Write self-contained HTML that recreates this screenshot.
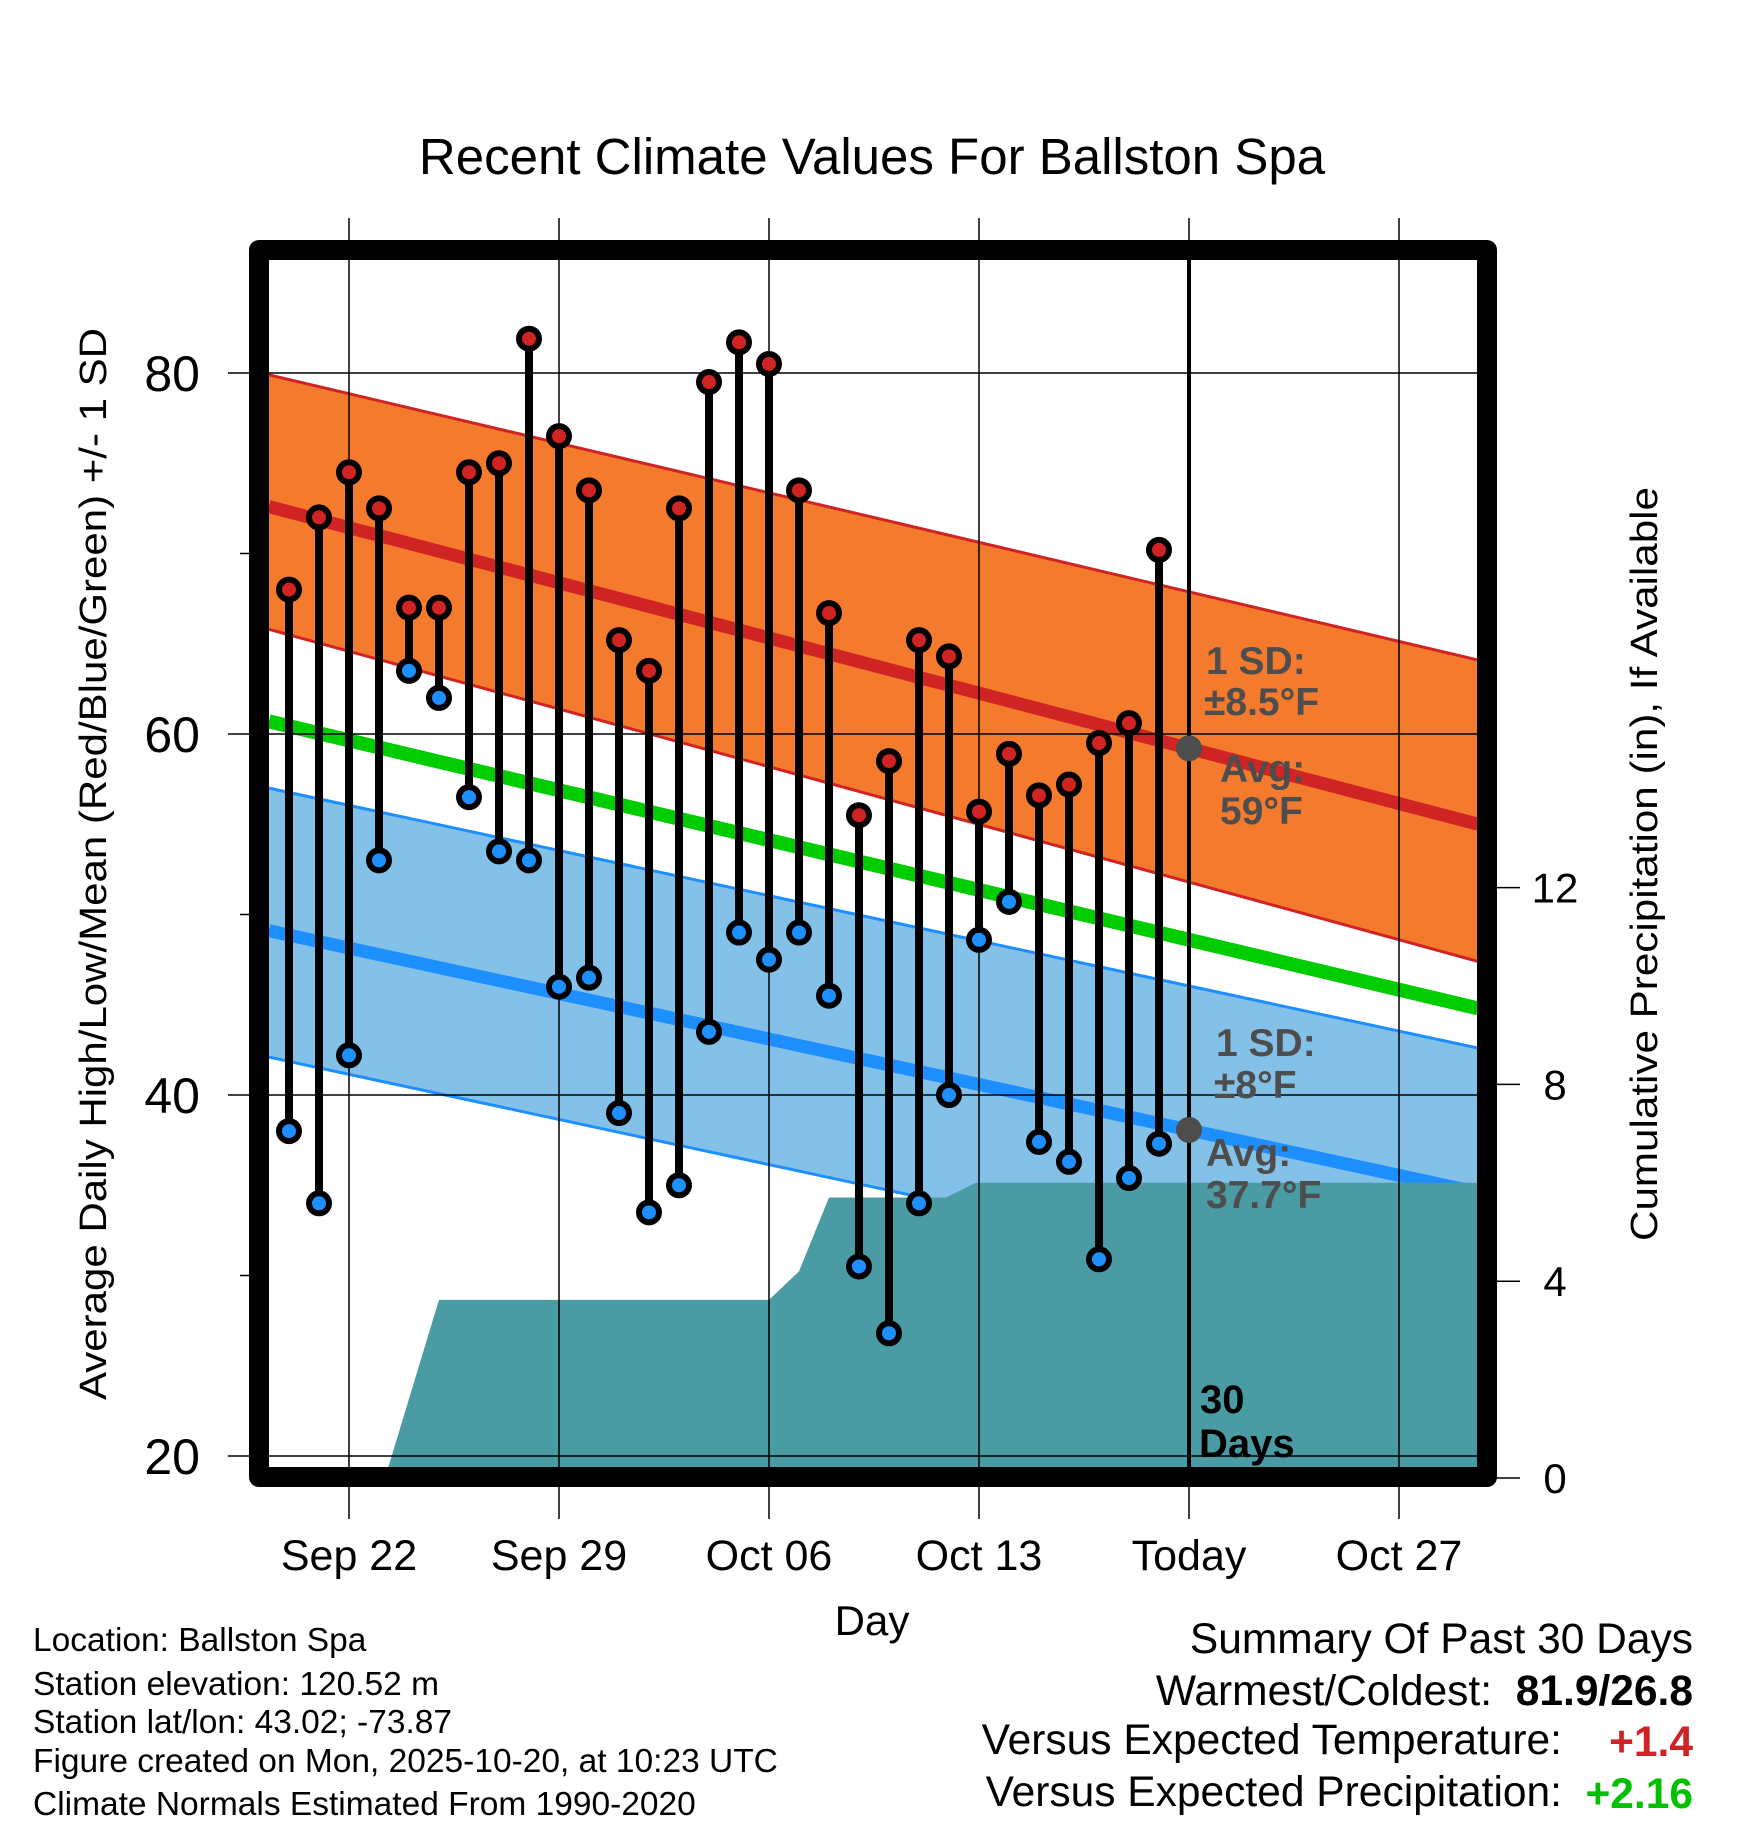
<!DOCTYPE html>
<html><head><meta charset="utf-8"><style>
html,body{margin:0;padding:0;background:#fff;}
svg{display:block;font-family:"Liberation Sans",Arial,sans-serif;}
</style></head><body>
<svg id="chart" width="1748" height="1828" viewBox="0 0 1748 1828">
<g id="layer"></g>
</svg>
<script>
// ---- data ----
const days = ['Sep 20','Sep 21','Sep 22','Sep 23','Sep 24','Sep 25','Sep 26','Sep 27','Sep 28','Sep 29','Sep 30','Oct 01','Oct 02','Oct 03','Oct 04','Oct 05','Oct 06','Oct 07','Oct 08','Oct 09','Oct 10','Oct 11','Oct 12','Oct 13','Oct 14','Oct 15','Oct 16','Oct 17','Oct 18','Oct 19'];
const dayOffsets = [-2,-1,0,1,2,3,4,5,6,7,8,9,10,11,12,13,14,15,16,17,18,19,20,21,22,23,24,25,26,27];
const highs = [68,72,74.5,72.5,67,67,74.5,75,81.9,76.5,73.5,65.2,63.5,72.5,79.5,81.7,80.5,73.5,66.7,55.5,58.5,65.2,64.3,55.7,58.9,56.6,57.2,59.5,60.6,70.2];
const lows = [38,34,42.2,53,63.5,62,56.5,53.5,53,46,46.5,39,33.5,35,43.5,49,47.5,49,45.5,30.5,26.8,34,40,48.6,50.7,37.4,36.3,30.9,35.4,37.3];
const normalDays = [-2.67,37.63];
const highMean = [72.6,55.0];
const highUpper = [79.9,64.1];
const highLower = [65.8,47.4];
const meanNormal = [60.7,44.8];
const lowMean = [49.1,34.6];
const lowUpper = [57.0,42.6];
const lowLower = [42.1,27.7];
const precipDays = [-2.67,1.2,3.0,14.0,15.0,16.0,19.9,20.9,37.63];
const precipValues = [0,0,3.62,3.62,4.2,5.7,5.7,6.0,6.0];
const xTickDays = [0,7,14,21,28,35];
const xTickLabels = ['Sep 22','Sep 29','Oct 06','Oct 13','Today','Oct 27'];
const yTicks = [20,40,60,80];
const yMinorTicks = [30,50,70];
const pTicks = [0,4,8,12];
const todayDay = 28;

// ---- axes ----
const X0=269, X1=1478, Y0=260, Y1=1467;
const xS = d => 349 + d*30;
const yS = t => 373 + (80 - t)*18.05;
const pS = p => 1478 - p*49.2;
const NS='http://www.w3.org/2000/svg';
const layer=document.getElementById('layer');
function mk(tag, attrs, parent){const e=document.createElementNS(NS,tag);for(const k in attrs)e.setAttribute(k,attrs[k]);(parent||layer).appendChild(e);return e;}
function txt(s,attrs){const e=mk('text',attrs);e.textContent=s;return e;}

const defs=mk('defs',{});
const cp=mk('clipPath',{id:'plotclip'},defs);
mk('rect',{x:X0,y:Y0,width:X1-X0,height:Y1-Y0},cp);
const plot=mk('g',{'clip-path':'url(#plotclip)'});

function band(up,lo,fill,name){
  const pts=[[xS(normalDays[0]),yS(up[0])],[xS(normalDays[1]),yS(up[1])],[xS(normalDays[1]),yS(lo[1])],[xS(normalDays[0]),yS(lo[0])]];
  const e=mk('polygon',{points:pts.map(p=>p.join(',')).join(' '),fill:fill},plot);
  
  
}
function nline(vals,color,w,name){
  const e=mk('line',{x1:xS(normalDays[0]),y1:yS(vals[0]),x2:xS(normalDays[1]),y2:yS(vals[1]),stroke:color,'stroke-width':w},plot);
  
  
}
band(highUpper,highLower,'#f47a2e','high-sd-band');
band(lowUpper,lowLower,'#84c1e8','low-sd-band');
nline(highUpper,'#d02323',3,'high-upper-line');
nline(highLower,'#d02323',3,'high-lower-line');
nline(lowUpper,'#1e8fff',3,'low-upper-line');
nline(lowLower,'#1e8fff',3,'low-lower-line');
nline(meanNormal,'#00cc00',14,'mean-normal-line');
nline(highMean,'#d02323',13,'high-mean-line');
nline(lowMean,'#1e8fff',13,'low-mean-line');

let pp=precipDays.map((d,i)=>xS(d)+','+pS(precipValues[i]));
pp.push(xS(precipDays[precipDays.length-1])+','+pS(0));
pp.push(xS(precipDays[0])+','+pS(0));
const pa=mk('polygon',{points:pp.join(' '),fill:'#4a9ba4'},plot);



xTickDays.forEach((d,i)=>{
  const g=mk('line',{x1:xS(d),y1:218,x2:xS(d),y2:1519,stroke:'#000','stroke-width':1.5});
  
  
  const t=txt(xTickLabels[i],{x:xS(d),y:1570,'font-size':43,'text-anchor':'middle',fill:'#000'});
  
  
});
yTicks.forEach(v=>{
  const g=mk('line',{x1:228,y1:yS(v),x2:X1,y2:yS(v),stroke:'#000','stroke-width':1.5});
  
  
  const t=txt(String(v),{x:200,y:yS(v)+18,'font-size':50,'text-anchor':'end',fill:'#000'});
  
  
});
yMinorTicks.forEach(v=>{
  const g=mk('line',{x1:240,y1:yS(v),x2:252,y2:yS(v),stroke:'#000','stroke-width':1.5});
  
  
});
pTicks.forEach(v=>{
  const g=mk('line',{x1:1490,y1:pS(v),x2:1520,y2:pS(v),stroke:'#000','stroke-width':1.5});
  
  
  const t=txt(String(v),{x:1555,y:pS(v)+15,'font-size':42,'text-anchor':'middle',fill:'#000'});
  
  
});

const tl=mk('line',{x1:xS(todayDay),y1:Y0,x2:xS(todayDay),y2:Y1,stroke:'#000','stroke-width':4});



dayOffsets.forEach((d,i)=>{
  const x=xS(d);
  const s=mk('line',{x1:x,y1:yS(highs[i]),x2:x,y2:yS(lows[i]),stroke:'#000','stroke-width':8});
  
  
  const h=mk('circle',{cx:x,cy:yS(highs[i]),r:10,fill:'#d02323',stroke:'#000','stroke-width':6});
  
  
  const l=mk('circle',{cx:x,cy:yS(lows[i]),r:10,fill:'#1e8fff',stroke:'#000','stroke-width':6});
  
  
});

function lerp(a,d){return a[0]+(a[1]-a[0])*(d-normalDays[0])/(normalDays[1]-normalDays[0]);}
const d1=mk('circle',{cx:xS(todayDay),cy:yS(lerp(highMean,todayDay)),r:13,fill:'#4d4d4d'});


const d2=mk('circle',{cx:xS(todayDay),cy:yS(lerp(lowMean,todayDay)),r:13,fill:'#4d4d4d'});



const fr=mk('rect',{x:259,y:250,width:1228,height:1227,fill:'none',stroke:'#000','stroke-width':20,'stroke-linejoin':'round'});


</script>
<svg width="1748" height="1828" style="position:absolute;left:0;top:0">
<g font-family="Liberation Sans, Arial, sans-serif">
<text x="872" y="174" font-size="51" text-anchor="middle">Recent Climate Values For Ballston Spa</text>
<text transform="translate(106,864) rotate(-90)" font-size="38" text-anchor="middle" textLength="1072" lengthAdjust="spacingAndGlyphs">Average Daily High/Low/Mean (Red/Blue/Green) +/- 1 SD</text>
<text transform="translate(1657,864) rotate(-90)" font-size="38" text-anchor="middle" textLength="754" lengthAdjust="spacingAndGlyphs">Cumulative Precipitation (in), If Available</text>
<text x="872" y="1635" font-size="42" text-anchor="middle">Day</text>
<g font-weight="bold" fill="#4d4d4d" font-size="39">
<text x="1206" y="674">1 SD:</text>
<text x="1204" y="715">±8.5°F</text>
<text x="1220" y="782">Avg:</text>
<text x="1220" y="824">59°F</text>
<text x="1216" y="1056">1 SD:</text>
<text x="1214" y="1098">±8°F</text>
<text x="1206" y="1166">Avg:</text>
<text x="1206" y="1208">37.7°F</text>
</g>
<g font-weight="bold" fill="#000" font-size="40">
<text x="1200" y="1413">30</text>
<text x="1199" y="1457">Days</text>
</g>
<g font-size="33.5" fill="#000">
<text x="33" y="1651">Location: Ballston Spa</text>
<text x="33" y="1695">Station elevation: 120.52 m</text>
<text x="33" y="1733">Station lat/lon: 43.02; -73.87</text>
<text x="33" y="1772">Figure created on Mon, 2025-10-20, at 10:23 UTC</text>
<text x="33" y="1815">Climate Normals Estimated From 1990-2020</text>
</g>
<g font-size="42.5" fill="#000" text-anchor="end">
<text x="1693" y="1653">Summary Of Past 30 Days</text>
<text x="1492" y="1705">Warmest/Coldest:</text>
<text x="1693" y="1705" font-weight="bold">81.9/26.8</text>
<text x="1562" y="1754">Versus Expected Temperature:</text>
<text x="1693" y="1756" font-weight="bold" fill="#d02323">+1.4</text>
<text x="1562" y="1806">Versus Expected Precipitation:</text>
<text x="1693" y="1808" font-weight="bold" fill="#00c000">+2.16</text>
</g>
</g>
</svg>
</body></html>
